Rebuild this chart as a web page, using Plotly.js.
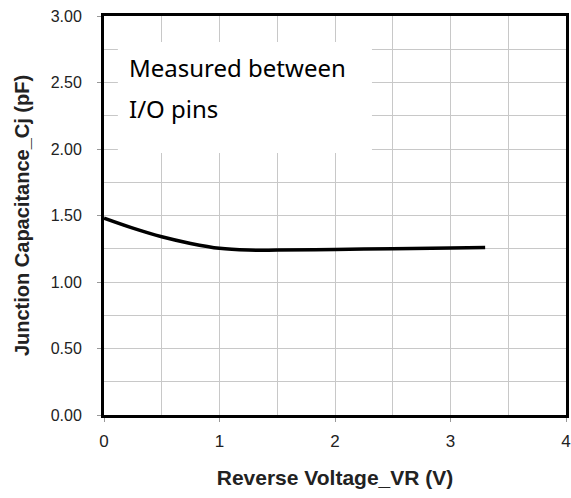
<!DOCTYPE html>
<html>
<head>
<meta charset="utf-8">
<script src="https://cdn.plot.ly/plotly-3.0.1.min.js"></script>
<style>html,body{margin:0;padding:0;background:#fff;}#chart{width:571px;height:498px;}</style>
</head>
<body>
<div id="chart"></div>
<script>
var voltage = [0, 0.25, 0.5, 0.75, 1.0, 1.25, 1.5, 2.0, 2.5, 3.0, 3.3];
var capacitance = [1.48, 1.405, 1.34, 1.29, 1.253, 1.24, 1.24, 1.245, 1.25, 1.255, 1.26];
var xTicks = [0, 1, 2, 3, 4];
var yTicks = [0, 0.5, 1.0, 1.5, 2.0, 2.5, 3.0];
var yTickText = ["0.00", "0.50", "1.00", "1.50", "2.00", "2.50", "3.00"];
var noteLines = ["Measured between", "I/O pins"];

var trace = {
  x: voltage, y: capacitance, type: 'scatter', mode: 'lines',
  line: {color: '#000', width: 3.5, shape: 'spline', smoothing: 1},
  hoverinfo: 'skip', showlegend: false
};

var layout = {
  width: 571, height: 498,
  margin: {l: 104, r: 5, t: 16, b: 83},
  paper_bgcolor: '#fff', plot_bgcolor: '#fff',
  font: {family: 'Liberation Sans, Arial, sans-serif', color: '#222'},
  xaxis: {
    range: [0, 4], tickvals: xTicks, ticktext: xTicks.map(String),
    showgrid: true, gridcolor: '#c8c8c8', gridwidth: 1,
    minor: {dtick: 0.5, tick0: 0, showgrid: true, gridcolor: '#c8c8c8', gridwidth: 1},
    showline: true, mirror: true, linecolor: '#000', linewidth: 3,
    ticks: 'outside', ticklen: 4, tickcolor: '#999', tickwidth: 1,
    ticklabelstandoff: 5,
    tickfont: {size: 17, color: '#222'}, zeroline: false,
    title: {text: 'Reverse Voltage_VR (V)', font: {size: 21, color: '#222', weight: 'bold'}, standoff: 20}
  },
  yaxis: {
    range: [0, 3], tickvals: yTicks, ticktext: yTickText,
    showgrid: true, gridcolor: '#c8c8c8', gridwidth: 1,
    minor: {dtick: 0.25, tick0: 0, showgrid: true, gridcolor: '#c8c8c8', gridwidth: 1},
    showline: true, mirror: true, linecolor: '#000', linewidth: 3,
    ticks: 'outside', ticklen: 4, tickcolor: '#999', tickwidth: 1,
    ticklabelstandoff: 12,
    tickfont: {size: 16, color: '#222'}, zeroline: false,
    title: {text: 'Junction Capacitance_Cj (pF)', font: {size: 20, color: '#222', weight: 'bold'}, standoff: 16}
  },
  shapes: [{
    type: 'rect', xref: 'x', yref: 'y', x0: 0.12, x1: 2.32, y0: 1.97, y1: 2.805,
    fillcolor: '#fff', line: {width: 0}, layer: 'between'
  }],
  annotations: [
    {xref: 'paper', yref: 'paper', x: 0.05, y: 0.872, xanchor: 'left', yanchor: 'middle',
     text: noteLines[0], showarrow: false, font: {family: 'Noto Sans, sans-serif', size: 24, color: '#000'}},
    {xref: 'paper', yref: 'paper', x: 0.05, y: 0.767, xanchor: 'left', yanchor: 'middle',
     text: noteLines[1], showarrow: false, font: {family: 'Noto Sans, sans-serif', size: 24, color: '#000'}}
  ]
};

Plotly.newPlot('chart', [trace], layout, {staticPlot: true, displayModeBar: false});
</script>
</body>
</html>
